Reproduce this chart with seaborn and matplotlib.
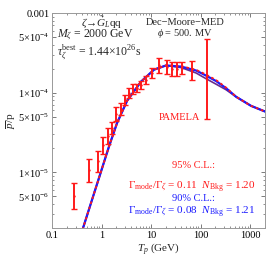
import numpy as np
import pandas as pd
import matplotlib
matplotlib.use("Agg")
import matplotlib.pyplot as plt
import matplotlib.ticker as mticker
import seaborn as sns

# PAMELA antiproton/proton data
pam_T = [0.274, 0.568, 0.838, 1.09, 1.32, 1.61, 1.99, 2.44, 2.98, 3.51, 4.27,
         5.09, 6.28, 7.93, 10.5, 14.5, 21.0, 26.6, 33.5, 41.3, 67.3, 135.0]
pam_v = [5.1e-6, 1.06e-5, 1.38e-5, 2.2e-5, 2.86e-5, 3.6e-5, 5.4e-5, 6.3e-5, 8.1e-5,
         1.0e-4, 1.12e-4, 1.16e-4, 1.24e-4, 1.46e-4, 1.79e-4, 2.2e-4, 2.13e-4,
         2.0e-4, 2.0e-4, 2.04e-4, 1.9e-4, 1.59e-4]
pam_hi = [7.45e-6, 1.48e-5, 1.87e-5, 2.82e-5, 3.61e-5, 4.29e-5, 6.62e-5, 7.5e-5, 9.37e-5,
          1.157e-4, 1.30e-4, 1.30e-4, 1.39e-4, 1.64e-4, 2.07e-4, 2.70e-4, 2.61e-4,
          2.45e-4, 2.45e-4, 2.43e-4, 2.51e-4, 4.7e-4]
pam_lo = [3.49e-6, 7.6e-6, 1.02e-5, 1.72e-5, 2.26e-5, 3.02e-5, 4.4e-5, 5.29e-5, 7.0e-5,
          8.64e-5, 9.68e-5, 1.03e-4, 1.10e-4, 1.30e-4, 1.55e-4, 1.79e-4, 1.74e-4,
          1.63e-4, 1.63e-4, 1.71e-4, 1.44e-4, 4.7e-5]

# model curves
curve_T = [0.411, 0.977, 1.417, 2.056, 3.275, 6.28, 11.5, 20.1, 40.4, 81.1, 129.0,
           206.0, 327.0, 521.0, 1047.0, 2103.0]
bkg = [1.9e-6, 1.03e-5, 2.13e-5, 4.17e-5, 7.92e-5, 1.38e-4, 1.95e-4, 2.20e-4, 2.07e-4,
       1.77e-4, 1.50e-4, 1.28e-4, 1.09e-4, 8.9e-5, 6.84e-5, 5.74e-5]
cl90 = [1.9e-6, 1.03e-5, 2.13e-5, 4.17e-5, 7.92e-5, 1.38e-4, 1.95e-4, 2.20e-4, 2.13e-4,
        1.90e-4, 1.64e-4, 1.40e-4, 1.14e-4, 8.9e-5, 6.84e-5, 5.74e-5]
cl95 = [1.9e-6, 1.03e-5, 2.13e-5, 4.17e-5, 7.92e-5, 1.38e-4, 1.95e-4, 2.20e-4, 2.16e-4,
        1.94e-4, 1.69e-4, 1.44e-4, 1.16e-4, 8.9e-5, 6.84e-5, 5.74e-5]

x_ticks = [0.1, 1, 10, 100, 1000]
x_labels = ["0.1", "1", "10", "100", "1000"]
y_ticks = [1e-3, 5e-4, 1e-4, 5e-5, 1e-5, 5e-6]
y_labels = ["0.001", r"5$\times$10$^{-4}$", r"1$\times$10$^{-4}$", r"5$\times$10$^{-5}$",
            r"1$\times$10$^{-5}$", r"5$\times$10$^{-6}$"]

sns.set_style("ticks")
plt.rcParams["font.family"] = ["Liberation Serif", "DejaVu Serif"]
plt.rcParams["mathtext.fontset"] = "custom"
plt.rcParams["mathtext.rm"] = "Liberation Serif"
plt.rcParams["mathtext.it"] = "Liberation Serif:italic"
plt.rcParams["mathtext.bf"] = "Liberation Serif:bold"

fig = plt.figure(figsize=(2.67, 2.56), dpi=100)
ax = fig.add_axes([0.195, 0.109, 0.7975, 0.840])

RED = "#ff1a1a"
BLUE = "#1a1aff"
PURPLE = "#6a2c8c"

df = pd.DataFrame({"T": curve_T, "bkg": bkg, "cl90": cl90, "cl95": cl95})
sns.lineplot(data=df, x="T", y="bkg", ax=ax, color=PURPLE, lw=1.2)
sns.lineplot(data=df, x="T", y="cl90", ax=ax, color=BLUE, lw=1.6)
sns.lineplot(data=df, x="T", y="cl95", ax=ax, color=RED, lw=1.3, linestyle=(0, (1.5, 1.5)))

v = np.array(pam_v)
yerr = [v - np.array(pam_lo), np.array(pam_hi) - v]
ax.errorbar(pam_T, pam_v, yerr=yerr, fmt="none", ecolor=RED, elinewidth=1.4,
            capsize=2.0, capthick=1.0)
sns.scatterplot(x=pam_T, y=pam_v, ax=ax, color=RED, s=3, linewidth=0)

ax.set_xscale("log")
ax.set_yscale("log")
ax.set_xlim(0.1, 2000)
ax.set_ylim(2e-6, 1e-3)
ax.xaxis.set_major_locator(mticker.FixedLocator(x_ticks))
ax.xaxis.set_major_formatter(mticker.FixedFormatter(x_labels))
ax.yaxis.set_major_locator(mticker.FixedLocator(y_ticks))
ax.yaxis.set_major_formatter(mticker.FixedFormatter(y_labels))
ax.xaxis.set_minor_locator(mticker.LogLocator(base=10, subs=np.arange(2, 10)))
ax.yaxis.set_minor_locator(mticker.LogLocator(base=10, subs=np.arange(2, 10)))
ax.xaxis.set_minor_formatter(mticker.NullFormatter())
ax.yaxis.set_minor_formatter(mticker.NullFormatter())
ax.tick_params(which="both", direction="in", top=True, right=True, colors="#666666",
               labelcolor="black", labelsize=7.5, pad=2)
ax.tick_params(which="major", length=3, width=0.6)
ax.tick_params(which="minor", length=1.6, width=0.5)
for s in ax.spines.values():
    s.set_color("#999999")
    s.set_linewidth(0.7)

ax.set_xlabel(r"$T_p$ (GeV)", fontsize=8, labelpad=1)
ax.set_ylabel(r"$\overline{p}$/p", fontsize=8, labelpad=0)

ax.text(0.235, 0.958, "$\\zeta$\u2192$\\tilde{G}_L$qq", transform=ax.transAxes,
        ha="center", va="center", fontsize=8)
ax.text(0.025, 0.897, r"$M_\zeta$ = 2000 GeV", transform=ax.transAxes,
        ha="left", va="center", fontsize=8.5)
ax.text(0.025, 0.822, r"$\tau_\zeta^{\rm best}$ = 1.44$\times$10$^{26}$s", transform=ax.transAxes,
        ha="left", va="center", fontsize=8.5)
ax.text(0.624, 0.958, "Dec\u2212Moore\u2212MED", transform=ax.transAxes,
        ha="center", va="center", fontsize=7.5)
ax.text(0.624, 0.905, r"$\phi$ = 500. MV", transform=ax.transAxes,
        ha="center", va="center", fontsize=7.5)
ax.text(0.596, 0.512, "PAMELA", transform=ax.transAxes, ha="center", va="center",
        fontsize=7.5, color=RED)
ax.text(0.665, 0.293, "95% C.L.:", transform=ax.transAxes, ha="center", va="center",
        fontsize=7.5, color=RED)
ax.text(0.655, 0.190, "\u0393$_{\\rm mode}$/\u0393$_{\\zeta}$ = 0.11  $N_{\\rm Bkg}$ = 1.20",
        transform=ax.transAxes, ha="center", va="center", fontsize=8, color=RED)
ax.text(0.665, 0.137, "90% C.L.:", transform=ax.transAxes, ha="center", va="center",
        fontsize=7.5, color=BLUE)
ax.text(0.655, 0.076, "\u0393$_{\\rm mode}$/\u0393$_{\\zeta}$ = 0.08  $N_{\\rm Bkg}$ = 1.21",
        transform=ax.transAxes, ha="center", va="center", fontsize=8, color=BLUE)

fig.savefig("out.png", dpi=100)
